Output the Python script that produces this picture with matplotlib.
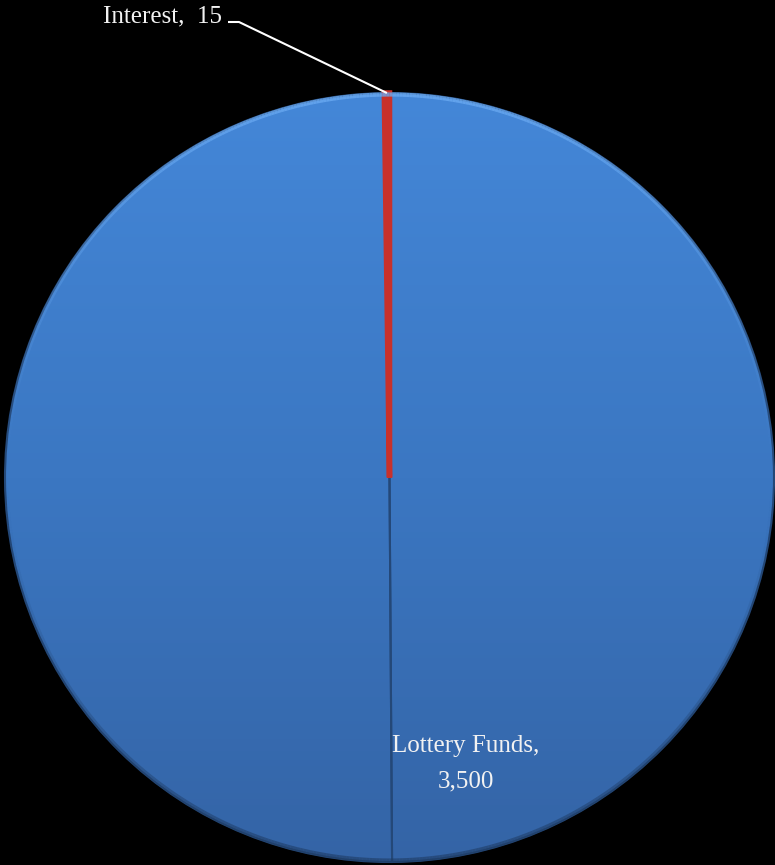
import matplotlib.pyplot as plt
import numpy as np
from matplotlib.colors import LinearSegmentedColormap, to_rgba
from matplotlib.collections import LineCollection

# Pie data (left blue slice carries no visible label in the source)
labels = ['Interest', '', 'Lottery Funds']
values = [15, 3500, 3500]
colors = ['#C8312B', '#3F7FCC', '#3F7FCC']

W, H = 775, 865
fig = plt.figure(figsize=(W / 100, H / 100), dpi=100, facecolor='black')
ax = fig.add_axes([0, 0, 1, 1])
ax.set_facecolor('black')

cx, cy, r = 389.5, 387.5, 384.5

wedges, _ = ax.pie(values, colors=colors, startangle=90, counterclock=True,
                   center=(cx, cy), radius=r, frame=True,
                   wedgeprops=dict(edgecolor='#244878', linewidth=1.5))
ax.set_xlim(0, W)
ax.set_ylim(0, H)
ax.set_aspect('equal')
ax.axis('off')

# vertical gradient on the blue slices
blue = LinearSegmentedColormap.from_list('b', ['#3464A6', '#3B77C2', '#4487D8'])
grad = np.linspace(0, 1, 256).reshape(-1, 1)
for w in wedges[1:]:
    im = ax.imshow(grad, cmap=blue, origin='lower', aspect='auto',
                   extent=(cx - r, cx + r, cy - r, cy + r), zorder=1)
    im.set_clip_path(w)
    w.set_facecolor('none')
    w.set_zorder(2)

# red slice drawn a bit wider with its own edge
wedges[0].set_edgecolor('#C8312B')
wedges[0].set_linewidth(4)
wedges[0].set_zorder(3)

# soft bevel along the rim, fading out towards the sides
t = np.linspace(0, 2 * np.pi, 721)
rr = r - 1.5
pts = np.column_stack([cx + rr * np.cos(t), cy + rr * np.sin(t)])
segs = np.stack([pts[:-1], pts[1:]], axis=1)
s = np.sin((t[:-1] + t[1:]) / 2)
light, dark = to_rgba('#6AAAF2'), to_rgba('#1E3B63')
rim_cols = [(light[0], light[1], light[2], 0.8 * v ** 1.5) if v > 0
            else (dark[0], dark[1], dark[2], 0.6 * (-v) ** 1.5) for v in s]
ax.add_collection(LineCollection(segs, colors=rim_cols, linewidths=3, zorder=4))

# Interest label with leader line
th = np.deg2rad((wedges[0].theta1 + wedges[0].theta2) / 2)
tip = (cx + r * np.cos(th), cy + r * np.sin(th))
ax.text(222, H - 22, '%s,  %d' % (labels[0], values[0]),
        ha='right', va='baseline', color='#F2F2F2', fontsize=18,
        family='Liberation Serif', zorder=5)
ax.plot([228, 239, tip[0]], [H - 22, H - 22, tip[1]], color='white', lw=1.5,
        solid_capstyle='butt', zorder=5)

# Lottery label
ax.text(466, H - 764, '%s,\n%s' % (labels[2], format(values[2], ',')),
        ha='center', va='center', color='#F2F2F2', fontsize=18,
        family='Liberation Serif', linespacing=1.8, zorder=5)

fig.savefig('out.png', dpi=100, facecolor='black')
